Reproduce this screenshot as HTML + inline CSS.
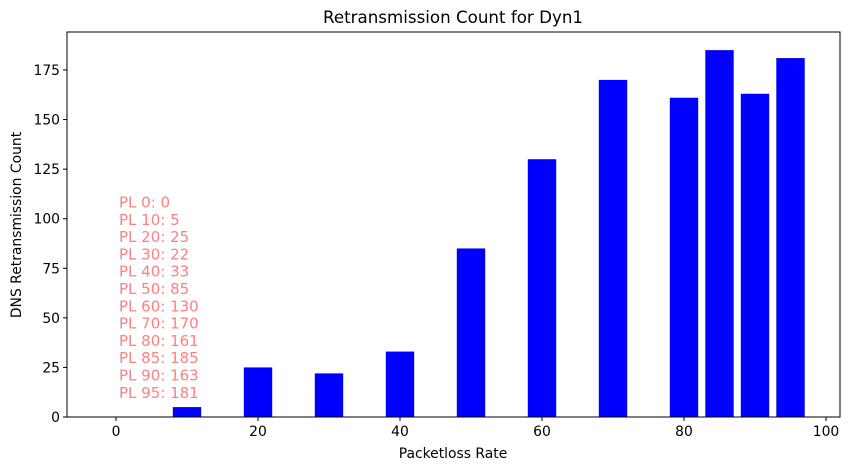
<!DOCTYPE html>
<html><head><meta charset="utf-8"><style>
body{margin:0;background:#fff;}
svg{font-family:"DejaVu Sans","Liberation Sans",sans-serif;}
</style></head><body>
<svg id="chart" width="850" height="470">
<rect x="0" y="0" width="850" height="470" fill="#fff"/>
<text x="453" y="23" font-size="16.7" text-anchor="middle">Retransmission Count for Dyn1</text>
<text x="453" y="458" font-size="13.9" text-anchor="middle">Packetloss Rate</text>
<text transform="translate(21,225) rotate(-90)" font-size="13.9" text-anchor="middle">DNS Retransmission Count</text>
<g id="bars"></g><g id="ticks"></g><g id="notes"></g>
<rect x="67" y="32" width="773" height="385" fill="none" stroke="#000" stroke-width="1"/>
</svg>
<script>
const categories=[0,10,20,30,40,50,60,70,80,85,90,95];
const values=[0,5,25,22,33,85,130,170,161,185,163,181];
const xTicks=[0,20,40,60,80,100];
const yTicks=[0,25,50,75,100,125,150,175];
const NS="http://www.w3.org/2000/svg";
const X=v=>116+v*7.1, Y=v=>417-v*1.983;
const bars=document.getElementById('bars'),ticks=document.getElementById('ticks'),notes=document.getElementById('notes');
categories.forEach((c,i)=>{
 const r=document.createElementNS(NS,'rect');
 r.setAttribute('x',X(c-2));r.setAttribute('width',X(c+2)-X(c-2));
 r.setAttribute('y',Y(values[i]));r.setAttribute('height',Y(0)-Y(values[i]));
 r.setAttribute('fill','#0000ff');
 
 
 bars.appendChild(r);
 const t=document.createElementNS(NS,'text');
 t.setAttribute('x',119);t.setAttribute('y',207.5+i*17.3);
 t.setAttribute('font-size','15');t.setAttribute('fill','#ff8080');
 t.textContent='PL '+c+': '+values[i];
 
 
 notes.appendChild(t);
});
xTicks.forEach(v=>{
 const l=document.createElementNS(NS,'line');
 l.setAttribute('x1',X(v));l.setAttribute('x2',X(v));l.setAttribute('y1',417);l.setAttribute('y2',421);l.setAttribute('stroke','#000');
 
 
 ticks.appendChild(l);
 const t=document.createElementNS(NS,'text');
 t.setAttribute('x',X(v));t.setAttribute('y',436);t.setAttribute('font-size','13.9');t.setAttribute('text-anchor','middle');
 t.textContent=v;
 
 
 ticks.appendChild(t);
});
yTicks.forEach(v=>{
 const l=document.createElementNS(NS,'line');
 l.setAttribute('x1',63);l.setAttribute('x2',67);l.setAttribute('y1',Y(v));l.setAttribute('y2',Y(v));l.setAttribute('stroke','#000');
 
 
 ticks.appendChild(l);
 const t=document.createElementNS(NS,'text');
 t.setAttribute('x',60);t.setAttribute('y',Y(v)+5);t.setAttribute('font-size','13.9');t.setAttribute('text-anchor','end');
 t.textContent=v;
 
 
 ticks.appendChild(t);
});
</script>
</body></html>
